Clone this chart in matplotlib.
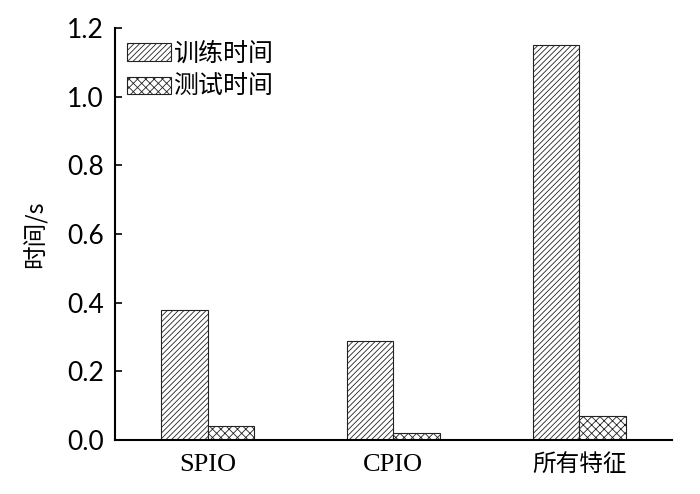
import matplotlib
matplotlib.use('Agg')
import matplotlib.pyplot as plt
import numpy as np

# data
groups = ['SPIO', 'CPIO', '所有特征']
train_time = [0.38, 0.29, 1.15]
test_time = [0.04, 0.02, 0.07]
yticks = [0.0, 0.2, 0.4, 0.6, 0.8, 1.0, 1.2]

plt.rcParams['font.family'] = ['Noto Sans CJK SC', 'DejaVu Sans']
plt.rcParams['hatch.linewidth'] = 0.6
plt.rcParams['hatch.color'] = '#444444'

fig = plt.figure(figsize=(7, 4.94), dpi=100)
ax = fig.add_axes([0.164, 0.109, 0.796, 0.834])

x = np.arange(len(groups))
w = 0.25
ax.bar(x - w / 2, train_time, w, color='white', edgecolor='#222222',
       linewidth=0.8, hatch='//////', label='训练时间')
ax.bar(x + w / 2, test_time, w, color='white', edgecolor='#222222',
       linewidth=0.8, hatch='xxxx', label='测试时间')

ax.set_xlim(-0.5, 2.5)
ax.set_ylim(0, 1.2)
ax.set_yticks(yticks)
ax.set_yticklabels(['%.1f' % v for v in yticks], family=['Lato', 'DejaVu Sans'], fontsize=19)
ax.set_xticks(x)
ax.set_xticklabels(groups, fontsize=17)
for lab in ax.get_xticklabels()[:2]:
    lab.set_family(['Liberation Serif'])
    lab.set_fontsize(19)
ax.tick_params(axis='x', length=0, pad=10)
ax.tick_params(axis='y', direction='in', length=5, width=1.2, pad=8)

for s in ['top', 'right']:
    ax.spines[s].set_visible(False)
for s in ['left', 'bottom']:
    ax.spines[s].set_linewidth(1.5)

ax.set_ylabel('时间/s', fontsize=17, labelpad=14)

ax.legend(loc='upper left', frameon=False, fontsize=18, handlelength=1.75,
          handleheight=0.7, handletextpad=0.1, labelspacing=0.3,
          borderaxespad=0.1, bbox_to_anchor=(0.0, 1.0))

fig.savefig('out.png', dpi=100)
